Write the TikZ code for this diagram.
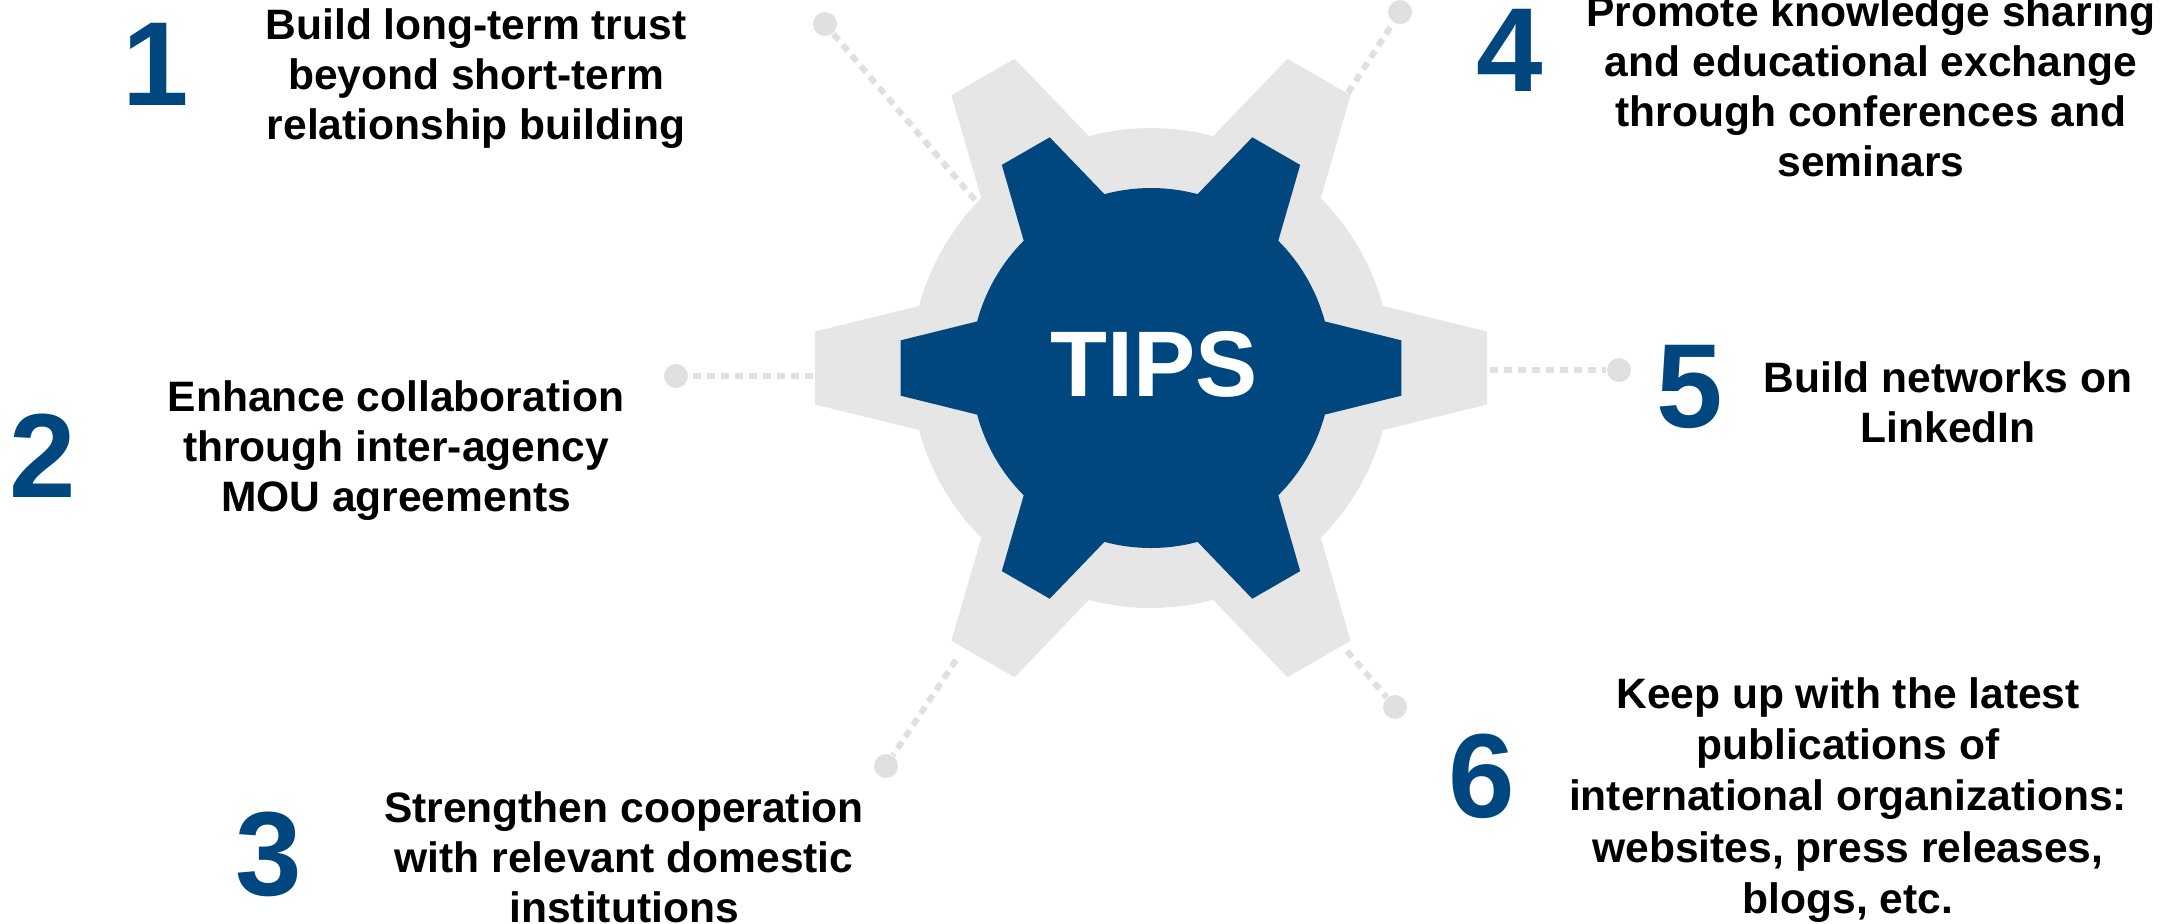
\documentclass[tikz,border=0pt]{standalone}
\usepackage{fontspec}
\setmainfont{Liberation Sans}
\definecolor{tipblue}{RGB}{0,71,127}
\definecolor{geargray}{RGB}{230,230,230}
\definecolor{dotgray}{RGB}{224,224,224}
\begin{document}
\begin{tikzpicture}[x=0.01cm,y=-0.01cm,
    tiptext/.style={align=center,inner sep=0pt,font=\bfseries\fontsize{12.1}{14.2}\selectfont},
    tipnum/.style={inner sep=0pt,text=tipblue,font=\bfseries\fontsize{34}{34}\selectfont},
    tipdot/.style={circle,fill=dotgray,minimum size=0.24cm,inner sep=0pt},
    dotline/.style={dotgray,line width=0.06cm,dash pattern=on 0.08cm off 0.06cm}]
    \useasboundingbox (0,0) rectangle (2184,923);
    \begin{scope}[shift={(1151,368)}]
        \fill [geargray] (-15:240) \foreach \a in {0,60,...,300} {-- (\a-6.2:338) -- (\a+6.2:338) -- (\a+15:240) arc[start angle=\a+15,end angle=\a+45,radius=240]} -- cycle;
        \fill [tipblue] (-15:180) \foreach \a in {0,60,...,300} {-- (\a-6.3:252) -- (\a+6.3:252) -- (\a+15:180) arc[start angle=\a+15,end angle=\a+45,radius=180]} -- cycle;
    \end{scope}
    \node [text=white,inner sep=0pt,font=\bfseries\fontsize{26.5}{26.5}\selectfont] (tips) at (1154,364) {TIPS};
    \node [tipdot] (d1) at (825,24) {};
    \node [tipdot] (d2) at (1400,12) {};
    \node [tipdot] (d3) at (676,376) {};
    \node [tipdot] (d4) at (1619,370) {};
    \node [tipdot] (d5) at (886,766) {};
    \node [tipdot] (d6) at (1395,707) {};
    \coordinate (g1) at (975,200);
    \coordinate (g2) at (1348,93);
    \coordinate (g3) at (813,376);
    \coordinate (g4) at (1490,370);
    \coordinate (g5) at (956,660);
    \coordinate (g6) at (1347,651);
    \draw [dotline] (g1) -- (d1);
    \draw [dotline] (g2) -- (d2);
    \draw [dotline] (g3) -- (d3);
    \draw [dotline] (g4) -- (d4);
    \draw [dotline] (g5) -- (d5);
    \draw [dotline] (g6) -- (d6);
    \node [tipnum] (n1) at (156,64) {1};
    \node [tipnum] (n2) at (43,456) {2};
    \node [tipnum] (n3) at (269,854) {3};
    \node [tipnum] (n4) at (1510,50) {4};
    \node [tipnum] (n5) at (1690,387) {5};
    \node [tipnum] (n6) at (1482,776) {6};
    \node [tiptext] (t1) at (476,79) {Build long-term trust\\beyond short-term\\relationship building};
    \node [tiptext] (t2) at (396,451) {Enhance collaboration\\through inter-agency\\MOU agreements};
    \node [tiptext] (t3) at (624,857) {Strengthen cooperation\\with relevant domestic\\institutions};
    \node [tiptext] (t4) at (1871,86) {Promote knowledge sharing\\and educational exchange\\through conferences and\\seminars};
    \node [tiptext,font=\bfseries\fontsize{12.1}{14.6}\selectfont] (t6) at (1848,800) {Keep up with the latest\\publications of\\international organizations:\\websites, press releases,\\blogs, etc.};
    \node [tiptext] (t5) at (1948,402) {Build networks on\\LinkedIn};
\end{tikzpicture}
\end{document}
